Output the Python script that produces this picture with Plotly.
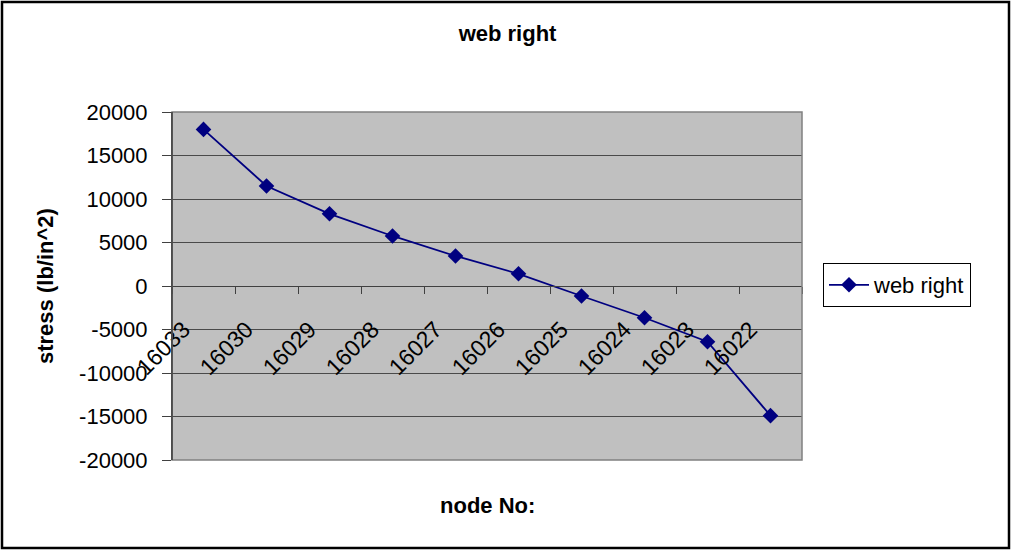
import plotly.graph_objects as go

nodes = ["16033", "16030", "16029", "16028", "16027", "16026", "16025", "16024", "16023", "16022"]
stress = [18000, 11500, 8300, 5750, 3450, 1400, -1150, -3650, -6400, -14900]
series_name = "web right"
y_ticks = [-20000, -15000, -10000, -5000, 0, 5000, 10000, 15000, 20000]

W, H = 1011, 551
L, R, T, B = 172, 209, 112, 91
pw, ph = W - L - R, H - T - B

def px_x(x):
    return (x - L) / pw

def px_y(y):
    return (H - B - y) / ph

FONT = "Arial, Liberation Sans, sans-serif"
NAVY = "#000080"
FS = 22

fig = go.Figure()
fig.add_trace(go.Scatter(
    x=nodes, y=stress, name=series_name, mode="lines+markers",
    line=dict(color=NAVY, width=1.8),
    marker=dict(symbol="diamond", size=12, color=NAVY),
))

fig.update_layout(
    width=W, height=H,
    margin=dict(l=L, r=R, t=T, b=B, pad=0),
    paper_bgcolor="white", plot_bgcolor="#c0c0c0",
    font=dict(family=FONT, size=FS, color="black"),
    title=dict(text="<b>web right</b>", x=0.502, xref="container", xanchor="center",
               y=1 - 33 / H, yref="container", yanchor="middle",
               font=dict(size=FS, family=FONT)),
    showlegend=True,
    legend=dict(x=px_x(823), y=px_y(263), xanchor="left", yanchor="top",
                bordercolor="black", borderwidth=1, bgcolor="white",
                font=dict(size=FS, family=FONT), itemwidth=40),
    xaxis=dict(
        type="category", anchor="free", position=0.5,
        showgrid=False, showline=True, linecolor="#404040", linewidth=1,
        ticks="outside", ticklen=7, tickcolor="#404040", tickson="boundaries",
        tickangle=-45, ticklabelstandoff=20, ticklabelshift=-20,
        tickfont=dict(size=23, family=FONT),
        range=[-0.5, len(nodes) - 0.5], zeroline=False,
    ),
    yaxis=dict(
        range=[-20000, 20000], tickvals=y_ticks, ticktext=[str(v) for v in y_ticks],
        showgrid=True, gridcolor="#4a4a4a", gridwidth=1,
        showline=True, linecolor="#404040", linewidth=1,
        ticks="outside", ticklen=9, tickcolor="#404040",
        ticklabelstandoff=10, zeroline=False,
        tickfont=dict(size=FS, family=FONT),
    ),
    annotations=[
        dict(text="<b>stress (lb/in^2)</b>", xref="paper", yref="paper",
             x=px_x(45), y=0.5, textangle=-90, showarrow=False,
             xanchor="center", yanchor="middle", font=dict(size=FS, family=FONT)),
        dict(text="<b>node No:</b>", xref="paper", yref="paper",
             x=px_x(487), y=px_y(505), showarrow=False,
             xanchor="center", yanchor="middle", font=dict(size=FS, family=FONT)),
    ],
    shapes=[
        dict(type="rect", xref="paper", yref="paper", x0=0, x1=1, y0=0, y1=1,
             line=dict(color="#808080", width=1.5), layer="above"),
        dict(type="line", xref="paper", yref="paper", x0=0, x1=0, y0=0, y1=1,
             line=dict(color="#404040", width=1.5), layer="above"),
        dict(type="rect", xref="paper", yref="paper",
             x0=px_x(2), x1=px_x(1009), y0=px_y(548), y1=px_y(2),
             line=dict(color="black", width=2.5), layer="above"),
    ],
)

fig.write_html("out.html", config={"displayModeBar": False},
               post_script="document.body.style.margin='0';")
